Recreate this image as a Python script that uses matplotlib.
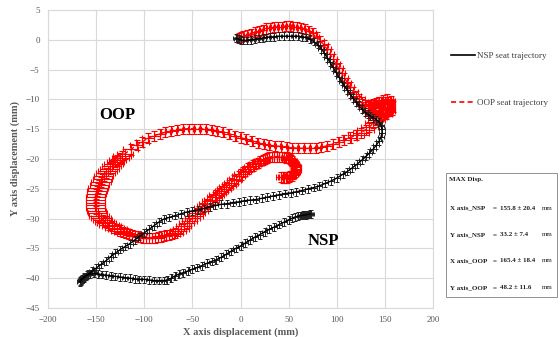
import matplotlib
matplotlib.use("Agg")
import matplotlib.pyplot as plt
from matplotlib.patches import Rectangle
from matplotlib.lines import Line2D

plt.rcParams['font.family'] = ['Liberation Serif', 'DejaVu Serif']

# NSP seat trajectory (black)
nsp_x = [-5, -4, -2, 0, 3, 7, 11, 15, 19, 23,
         27, 31, 35, 40, 45, 50, 55, 60, 64, 68,
         72, 76, 80, 84, 87, 90, 93, 96, 99, 102,
         105, 108, 111, 114, 117, 120, 123, 126, 129, 132,
         135, 138, 141, 144, 146, 147, 147, 146, 144, 141,
         138, 134, 130, 126, 121, 116, 111, 106, 100, 94,
         88, 82, 76, 70, 64, 58, 52, 46, 40, 34,
         28, 22, 16, 10, 4, -2, -8, -14, -20, -26,
         -32, -38, -44, -50, -56, -62, -68, -74, -80, -85,
         -90, -95, -100, -105, -110, -115, -120, -125, -130, -135,
         -140, -145, -150, -154, -158, -161, -163, -165, -166, -165,
         -167, -166.5, -165.5, -164.5,
         -163, -160, -156, -152, -148, -144, -140, -135, -130, -125,
         -120, -115, -110, -105, -100, -95, -90, -85, -80, -76,
         -72, -68, -64, -60, -55, -50, -45, -40, -35, -30,
         -25, -20, -15, -10, -5, 0, 5, 10, 15, 20,
         25, 30, 35, 40, 45, 50, 54, 57, 60, 62,
         63, 64, 65, 66, 67, 68, 69, 70, 71, 72, 73]
nsp_y = [0.3, 0.2, 0.1, 0.0, -0.1, -0.1, 0.0, 0.1, 0.2, 0.3,
         0.4, 0.5, 0.5, 0.6, 0.6, 0.6, 0.6, 0.6, 0.5, 0.4,
         0.1, -0.3, -0.8, -1.5, -2.2, -3.0, -3.8, -4.6, -5.4, -6.2,
         -7.0, -7.7, -8.4, -9.1, -9.8, -10.4, -11.0, -11.6, -12.1, -12.5,
         -12.8, -13.1, -13.4, -13.8, -14.4, -15.0, -15.6, -16.3, -17.0, -17.7,
         -18.3, -19.0, -19.6, -20.2, -20.9, -21.5, -22.1, -22.6, -23.2, -23.7,
         -24.1, -24.5, -24.8, -25.0, -25.3, -25.5, -25.7, -25.8, -26.0, -26.2,
         -26.4, -26.6, -26.8, -26.9, -27.0, -27.2, -27.3, -27.5, -27.6, -27.8,
         -28.0, -28.3, -28.5, -28.7, -28.9, -29.2, -29.5, -29.8, -30.1, -30.6,
         -31.2, -31.8, -32.4, -33.0, -33.6, -34.2, -34.7, -35.2, -35.8, -36.4,
         -37.1, -37.7, -38.3, -38.8, -39.3, -39.7, -40.0, -40.2, -40.3, -40.1,
         -40.5, -40.7, -40.5, -40.2,
         -39.8, -39.5, -39.3, -39.2, -39.3, -39.4, -39.5, -39.6, -39.7, -39.8,
         -39.9, -40.0, -40.1, -40.2, -40.2, -40.3, -40.4, -40.4, -40.4, -40.3,
         -40.0, -39.6, -39.3, -39.1, -38.8, -38.5, -38.2, -37.9, -37.5, -37.2,
         -36.9, -36.5, -36.0, -35.5, -35.0, -34.6, -34.1, -33.6, -33.1, -32.7,
         -32.2, -31.8, -31.4, -31.0, -30.6, -30.2, -29.9, -29.7, -29.6, -29.5,
         -29.5, -29.5, -29.4, -29.4, -29.4, -29.4, -29.3, -29.3, -29.3, -29.2, -29.2]
nsp_xerr = 3.0
nsp_yerr = 0.65

# OOP seat trajectory (red)
oop_x = [-2, 0, 3, 7, 11, 15, 19, 23, 27, 31,
         35, 39, 43, 47, 51, 55, 59, 63, 67, 71,
         75, 79, 83, 87, 90, 93, 96, 99, 102, 105,
         108, 111, 114, 117, 120, 123, 126, 129, 132, 135,
         138, 141, 144, 147, 150, 153, 156, 158, 157, 154,
         150, 145, 140, 136, 133, 136, 140, 145, 150, 154,
         156, 152, 148, 144, 140, 137, 141, 146, 151, 155,
         150, 146, 143, 141, 138, 134, 130, 125, 120, 114,
         108, 102, 96, 90, 84, 78, 72, 66, 60, 54,
         48, 42, 36, 30, 24, 18, 12, 6, 0, -6,
         -12, -18, -24, -30, -36, -42, -48, -54, -60, -66,
         -72, -78, -84, -90, -96, -102, -108, -114, -120, -123,
         -125, -128, -130, -132, -134, -136, -138, -140, -142, -143.5,
         -145, -146.5, -148, -149, -150, -150.5, -151, -151, -151, -150.5,
         -150, -148.5, -147, -145, -143, -141, -139, -136.5, -134, -131,
         -128, -125, -122, -119, -116, -113, -110, -107, -104, -101,
         -98, -95, -92, -89, -86, -83, -80, -77, -74, -71,
         -68, -65, -62, -59, -56, -53, -50, -47, -45, -42,
         -40, -37, -35, -32, -30, -27, -25, -22, -20, -17,
         -15, -12, -10, -7, -5, -2, 0, 3, 5, 8,
         10, 13, 15, 18, 20, 23, 25, 28, 30, 33,
         35, 38, 40, 43, 45, 47, 49, 51, 52, 54,
         55, 56, 57, 58, 58, 58, 57, 56, 55, 53,
         51, 50, 48, 47, 45, 44, 42]
oop_y = [0.3, 0.4, 0.6, 0.8, 1.0, 1.3, 1.5, 1.7, 1.9, 2.0,
         2.1, 2.2, 2.2, 2.3, 2.3, 2.2, 2.1, 2.0, 1.8, 1.5,
         1.1, 0.5, -0.2, -0.9, -1.6, -2.4, -3.2, -4.0, -4.8, -5.6,
         -6.4, -7.2, -8.0, -8.7, -9.4, -10.0, -10.5, -10.9, -11.1, -11.0,
         -10.8, -10.6, -10.5, -10.4, -10.4, -10.5, -10.8, -11.2, -11.7, -12.0,
         -11.6, -11.3, -11.2, -11.5, -12.0, -12.3, -12.0, -11.8, -11.5, -11.4,
         -10.2, -10.0, -10.1, -10.4, -10.9, -12.6, -12.8, -12.7, -12.4, -12.0,
         -12.2, -12.5, -12.9, -13.4, -14.0, -14.6, -15.1, -15.6, -16.0, -16.4,
         -16.8, -17.2, -17.5, -17.8, -18.0, -18.1, -18.2, -18.2, -18.2, -18.1,
         -18.0, -17.9, -17.8, -17.7, -17.5, -17.3, -17.0, -16.7, -16.4, -16.1,
         -15.8, -15.5, -15.3, -15.1, -15.0, -14.9, -14.9, -14.9, -15.0, -15.1,
         -15.3, -15.5, -15.8, -16.1, -16.5, -17.1, -17.7, -18.4, -19.1, -19.5,
         -19.8, -20.2, -20.5, -20.9, -21.2, -21.6, -22.0, -22.4, -22.9, -23.3,
         -23.8, -24.3, -24.8, -25.3, -25.8, -26.3, -26.8, -27.3, -27.8, -28.3,
         -28.7, -29.1, -29.5, -29.9, -30.2, -30.5, -30.8, -31.1, -31.3, -31.6,
         -31.8, -32.0, -32.2, -32.4, -32.6, -32.8, -32.9, -33.0, -33.1, -33.2,
         -33.2, -33.2, -33.2, -33.2, -33.1, -33.0, -32.9, -32.8, -32.7, -32.6,
         -32.4, -32.1, -31.7, -31.3, -30.8, -30.4, -29.9, -29.5, -29.1, -28.7,
         -28.3, -27.9, -27.5, -27.1, -26.8, -26.4, -26.1, -25.7, -25.4, -25.0,
         -24.7, -24.3, -24.0, -23.6, -23.3, -22.9, -22.6, -22.2, -22.0, -21.6,
         -21.4, -21.1, -20.9, -20.6, -20.4, -20.2, -20.0, -19.8, -19.7, -19.6,
         -19.6, -19.6, -19.6, -19.6, -19.7, -19.8, -19.9, -20.0, -20.2, -20.4,
         -20.6, -20.8, -21.1, -21.4, -21.6, -21.9, -22.1, -22.3, -22.5, -22.8,
         -22.9, -23.0, -23.1, -23.1, -23.1, -23.1, -23.0]
oop_xerr = [3, 3, 3, 3, 3, 3, 3, 3, 3, 3,
            3, 3, 3, 3, 3, 3, 3, 3, 3, 3,
            3, 3, 4, 4, 4, 4, 4, 4, 4, 4,
            4, 4, 4, 5, 5, 6, 6, 7, 7, 8,
            8, 8, 8, 8, 7, 6, 4, 3, 3, 4,
            6, 7, 8, 8, 7, 7, 8, 8, 6, 5,
            5, 6, 7, 8, 8, 8, 8, 7, 6, 5,
            6, 8, 9, 9, 9, 9, 9, 8, 8, 7,
            7, 6, 6, 5, 5, 5, 5, 5, 5, 5,
            5, 5, 5, 5, 5, 5, 5, 5, 5, 5,
            5, 5, 5, 5, 5, 5, 5, 5, 5, 5,
            5, 5, 6, 6, 6, 7, 7, 8, 8, 9,
            9, 9, 9, 10, 10, 10, 10, 10, 10, 10,
            10, 10, 10, 10, 10, 10, 10, 10, 10, 10,
            10, 10, 10, 10, 10, 10, 10, 10, 10, 10,
            10, 10, 9, 9, 9, 9, 9, 9, 9, 9,
            9, 9, 9, 9, 9, 9, 9, 8, 8, 8,
            8, 8, 8, 8, 8, 8, 8, 8, 8, 8,
            8, 8, 8, 8, 8, 8, 8, 7, 7, 7,
            7, 7, 7, 7, 7, 7, 7, 6, 6, 6,
            6, 6, 6, 6, 6, 6, 6, 5, 5, 5,
            5, 5, 5, 5, 5, 5, 5, 5, 5, 5,
            5, 5, 5, 5, 5, 5, 5, 5, 5, 5,
            5, 5, 5, 5, 5, 5, 5]
oop_yerr = 0.85

# summary box
box_rows = ["X axis_NSP", "Y axis_NSP", "X axis_OOP", "Y axis_OOP"]
box_vals = ["155.8 \u00b1 20.4", "33.2 \u00b1 7.4", "165.4 \u00b1 18.4", "48.2 \u00b1 11.6"]

fig = plt.figure(figsize=(5.6, 3.37), dpi=100)
ax = fig.add_axes([48/560, 1-308/337, 385/560, 298/337])

ax.errorbar(oop_x, oop_y, xerr=oop_xerr, yerr=oop_yerr, color='red', ls='--', lw=1.0,
            ecolor='red', elinewidth=0.8, capsize=2.2, capthick=0.8, zorder=2)
ax.errorbar(nsp_x, nsp_y, xerr=nsp_xerr, yerr=nsp_yerr, color='black', ls='-', lw=1.0,
            ecolor='#222222', elinewidth=0.7, capsize=1.6, capthick=0.7, zorder=3)

ax.set_xlim(-200, 200)
ax.set_ylim(-45, 5)
ax.set_xticks(range(-200, 201, 50))
ax.set_yticks(range(-45, 6, 5))
ax.grid(True, color='#d9d9d9', lw=0.8)
ax.set_axisbelow(True)
for s in ax.spines.values():
    s.set_color('#d9d9d9')
ax.tick_params(length=0, labelsize=6.5, labelcolor='#595959', pad=6)

ax.set_xlabel("X axis displacement (mm)", fontsize=7.5, fontweight='bold', color='#595959', labelpad=2)
ax.set_ylabel("Y axis displacement (mm)", fontsize=7.5, fontweight='bold', color='#595959', labelpad=4)

ax.text(-128, -12.6, "OOP", fontsize=12, fontweight='bold', ha='center', va='center')
ax.text(86, -33.8, "NSP", fontsize=12, fontweight='bold', ha='center', va='center')

handles = [Line2D([], [], color='black', lw=1.2),
           Line2D([], [], color='red', lw=1.2, ls=(0, (3, 2)))]
fig.legend(handles, ["NSP seat trajectory", "OOP seat trajectory"], loc='upper left',
           bbox_to_anchor=(443/560, 1-44/337), frameon=False, fontsize=6.5,
           labelspacing=4.2, handlelength=2.6, handletextpad=0.3, labelcolor='#404040')

fig.patches.append(Rectangle((446/560, 1-297/337), 111/560, 124/337, transform=fig.transFigure,
                             fill=False, ec='#808080', lw=0.6))
fig.text(449/560, 1-180/337, "MAX Disp.", fontsize=5, fontweight='bold', va='center', color='#202020')
for i, (r, v) in enumerate(zip(box_rows, box_vals)):
    ypix = 208 + i * 26.5
    fig.text(450/560, 1-ypix/337, r, fontsize=5, fontweight='bold', va='center', color='#202020')
    fig.text(493/560, 1-ypix/337, "=", fontsize=5, fontweight='bold', va='center', color='#202020')
    fig.text(500/560, 1-ypix/337, v, fontsize=5, fontweight='bold', va='center', color='#202020')
    fig.text(542/560, 1-ypix/337, "mm", fontsize=5, va='center', color='#202020')

fig.savefig("out.png", dpi=100)
